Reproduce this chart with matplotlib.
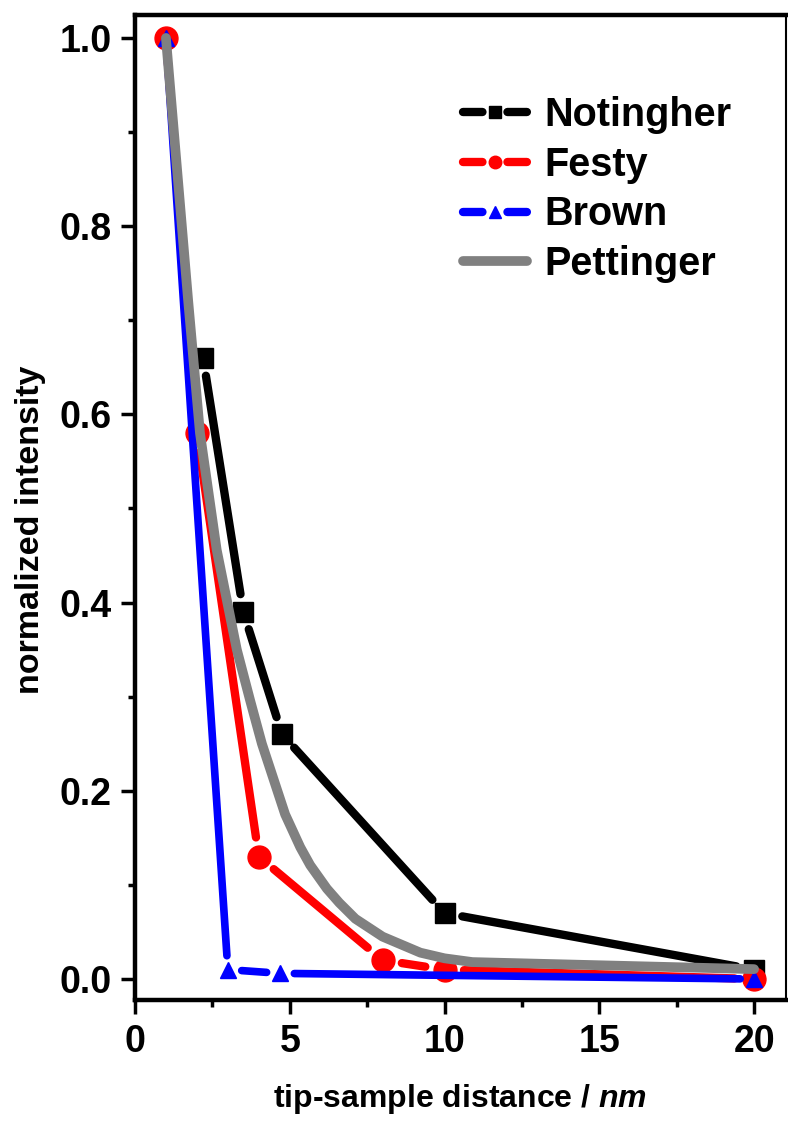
import matplotlib
matplotlib.use('Agg')
import matplotlib.pyplot as plt
from matplotlib.lines import Line2D

plt.rcParams['font.family'] = ['Liberation Sans', 'DejaVu Sans']
plt.rcParams['font.weight'] = 'bold'
plt.rcParams['axes.labelweight'] = 'bold'
plt.rcParams['mathtext.fontset'] = 'custom'
plt.rcParams['mathtext.bfit'] = 'Liberation Sans:italic:bold'
plt.rcParams['lines.scale_dashes'] = False

# data
notingher_x = [2.2, 3.5, 4.75, 10, 20]
notingher_y = [0.66, 0.39, 0.26, 0.07, 0.01]

festy_x = [1, 2, 4, 8, 10, 20]
festy_y = [1.0, 0.58, 0.13, 0.02, 0.01, 0.0]

brown_x = [1, 3, 4.7, 20]
brown_y = [1.0, 0.01, 0.006, 0.0]

pettinger_x = [1.0, 1.72, 2.1, 2.64, 3.29, 3.72, 4.1, 4.5, 4.85, 5.34, 5.66,
               6.2, 6.6, 7.12, 8.0, 9.22, 10.0, 10.9, 20.0]
pettinger_y = [1.0, 0.72, 0.58, 0.456, 0.35, 0.296, 0.25, 0.21, 0.175, 0.140,
               0.121, 0.096, 0.081, 0.064, 0.045, 0.028, 0.022, 0.018, 0.0105]

labels = ['Notingher', 'Festy', 'Brown', 'Pettinger']

fig = plt.figure(figsize=(7.88, 11.26), dpi=100)
ax = fig.add_axes([0.1713, 0.1119, 0.8261, 0.8748])


def gapped_line(xs, ys, color, lw, shrink, z):
    # line segments that stop short of the markers
    for i in range(len(xs) - 1):
        ax.annotate('', xy=(xs[i + 1], ys[i + 1]), xytext=(xs[i], ys[i]),
                    arrowprops=dict(arrowstyle='-', color=color, lw=lw,
                                    shrinkA=shrink, shrinkB=shrink,
                                    capstyle='round'),
                    zorder=z)


gapped_line(notingher_x, notingher_y, 'black', 6, 13, 2)
ax.plot(notingher_x, notingher_y, 's', ms=15, color='black', zorder=2)

gapped_line(festy_x, festy_y, 'red', 6, 14, 3)
ax.plot(festy_x, festy_y, 'o', ms=16.5, color='red', zorder=3)

gapped_line(brown_x, brown_y, 'blue', 5.5, 10, 4)
ax.plot(brown_x, brown_y, '^', ms=12, color='blue', zorder=4)

ax.plot(pettinger_x, pettinger_y, '-', lw=7, color='#808080',
        solid_capstyle='round', solid_joinstyle='round', zorder=5)

ax.set_xlim(0, 21.03)
ax.set_ylim(-0.0223, 1.0244)
ax.set_xticks([0, 5, 10, 15, 20])
ax.set_xticks([2.5, 7.5, 12.5, 17.5], minor=True)
ax.set_yticks([0.0, 0.2, 0.4, 0.6, 0.8, 1.0])
ax.set_yticklabels(['0.0', '0.2', '0.4', '0.6', '0.8', '1.0'])
ax.set_yticks([0.1, 0.3, 0.5, 0.7, 0.9], minor=True)
ax.tick_params(which='major', direction='out', length=10, width=2.5,
               labelsize=27, pad=7)
ax.tick_params(which='minor', direction='out', length=5, width=2.5)

for side in ['left', 'bottom', 'top']:
    ax.spines[side].set_linewidth(3.2)
ax.spines['right'].set_linewidth(1.5)

ax.set_xlabel('tip-sample distance / $\\mathbfit{nm}$', fontsize=23,
              fontweight='bold')
ax.set_ylabel('normalized intensity', fontsize=24.5, fontweight='bold')
ax.xaxis.set_label_coords(0.5, -0.083)
ax.yaxis.set_label_coords(-0.137, 0.477)

handles = [
    Line2D([], [], color='black', lw=6, dashes=(14, 18), dash_capstyle='round',
           marker='s', ms=8.5),
    Line2D([], [], color='red', lw=6, dashes=(14, 18), dash_capstyle='round',
           marker='o', ms=9),
    Line2D([], [], color='blue', lw=6, dashes=(14, 18), dash_capstyle='round',
           marker='^', ms=9),
    Line2D([], [], color='#808080', lw=7, solid_capstyle='round'),
]
ax.legend(handles, labels, loc='upper left', bbox_to_anchor=(0.588, 0.915),
          bbox_transform=fig.transFigure, frameon=False, fontsize=28.5,
          handlelength=1.6, handletextpad=0.45, labelspacing=0.3,
          borderpad=0, borderaxespad=0, numpoints=1)

fig.savefig('out.png', dpi=100)
